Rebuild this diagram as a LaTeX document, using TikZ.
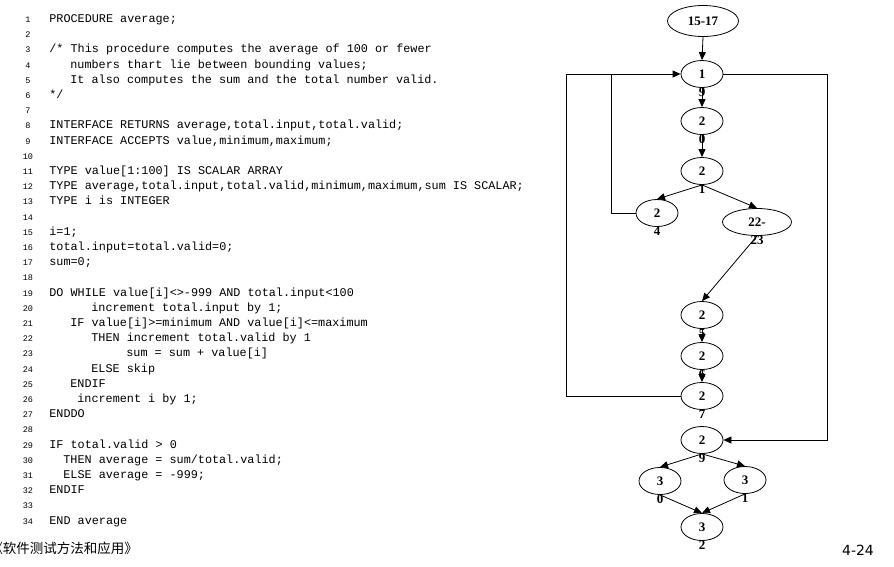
\documentclass[tikz,border=0pt]{standalone}
\usepackage{fontspec}
\setmainfont{Liberation Serif}
\setmonofont{Liberation Mono}
\newfontfamily\cjkfont{Noto Sans CJK SC}
\newfontfamily\pagefont{DejaVu Sans}
\usetikzlibrary{shapes.geometric,arrows.meta,positioning}
\begin{document}
\begin{tikzpicture}[x=1pt,y=-1pt,line width=0.8pt]
    \tikzset{
      code/.style={anchor=base west,inner sep=0,font=\ttfamily\fontsize{11.8}{14}\selectfont},
      lineno/.style={anchor=base,inner sep=0,font=\ttfamily\fontsize{8.5}{10}\selectfont},
      blk/.style={draw,ellipse,inner sep=0,minimum width=42pt,minimum height=27pt,
        font=\bfseries\fontsize{13}{15}\selectfont,label distance=0pt},
      every label/.style={inner sep=0,font=\bfseries\fontsize{13}{15}\selectfont},
      flow/.style={-{Triangle[length=8pt,width=7pt]}}
    }
        \useasboundingbox (0,0) rectangle (894,566);

        %LINE NUMBERS
        \foreach \k in {1,...,34}
          \node[lineno] (num\k) at (28,{22.5+(\k-1)*15.2}) {\k};

        %CODE
        \node[code] (c1) at (49,22.5) {PROCEDURE average;};
        \node[code] (c3) at (49,52.9) {/* This procedure computes the average of 100 or fewer};
        \node[code] (c4) at (70,68.1) {numbers thart lie between bounding values;};
        \node[code] (c5) at (70,83.3) {It also computes the sum and the total number valid.};
        \node[code] (c6) at (49,98.5) {*/};
        \node[code] (c8) at (49,128.9) {INTERFACE RETURNS average,total.input,total.valid;};
        \node[code] (c9) at (49,144.1) {INTERFACE ACCEPTS value,minimum,maximum;};
        \node[code] (c11) at (49,174.5) {TYPE value[1:100] IS SCALAR ARRAY};
        \node[code] (c12) at (49,189.7) {TYPE average,total.input,total.valid,minimum,maximum,sum IS SCALAR;};
        \node[code] (c13) at (49,204.9) {TYPE i is INTEGER};
        \node[code] (c15) at (49,235.3) {i=1;};
        \node[code] (c16) at (49,250.5) {total.input=total.valid=0;};
        \node[code] (c17) at (49,265.7) {sum=0;};
        \node[code] (c19) at (49,296.1) {DO WHILE value[i]<>-999 AND total.input<100};
        \node[code] (c20) at (91,311.3) {increment total.input by 1;};
        \node[code] (c21) at (70,326.5) {IF value[i]>=minimum AND value[i]<=maximum};
        \node[code] (c22) at (91,341.7) {THEN increment total.valid by 1};
        \node[code] (c23) at (126,356.9) {sum = sum + value[i]};
        \node[code] (c24) at (91,372.1) {ELSE skip};
        \node[code] (c25) at (70,387.3) {ENDIF};
        \node[code] (c26) at (77,402.5) {increment i by 1;};
        \node[code] (c27) at (49,417.7) {ENDDO};
        \node[code] (c29) at (49,448.1) {IF total.valid > 0};
        \node[code] (c30) at (63,463.3) {THEN average = sum/total.valid;};
        \node[code] (c31) at (63,478.5) {ELSE average = -999;};
        \node[code] (c32) at (49,493.7) {ENDIF};
        \node[code] (c34) at (49,524.1) {END average};

        %FLOW GRAPH
        \node[blk,minimum width=71pt,minimum height=31pt] (n1517) at (703,21) {15-17};
        \node[blk,label=below:9] (n19) at (702,74) {1};
        \node[blk,label=below:0] (n20) at (702,121) {2};
        \node[blk,label=below:1] (n21) at (702,171) {2};
        \node[blk,label=below:4] (n24) at (657,213) {2};
        \node[blk,minimum width=69pt,label=below:23] (n2223) at (757,222) {22-};
        \node[blk,label=below:5] (n25) at (702,315) {2};
        \node[blk,label=below:6] (n26) at (702,356) {2};
        \node[blk,label=below:7] (n27) at (702,396) {2};
        \node[blk,label=below:9] (n29) at (702,440) {2};
        \node[blk,label=below:0] (n30) at (660,481) {3};
        \node[blk,label=below:1] (n31) at (745,480) {3};
        \node[blk,label=below:2] (n32) at (702,527) {3};

        \coordinate (lft) at (566,0);
        \coordinate (mid) at (611,74);
        \coordinate (rgt) at (827,0);

        \draw[flow] (n1517.south) -- (n19.north);
        \draw[flow] (n19.south) -- (n20.north);
        \draw[flow] (n20.south) -- (n21.north);
        \draw[flow] (n21.south) -- (n24.north);
        \draw[flow] (n21.south) -- (n2223.north);
        \draw[flow] (n2223.south) -- (n25.north);
        \draw[flow] (n25.south) -- (n26.north);
        \draw[flow] (n26.south) -- (n27.north);
        \draw[flow] (n29.south) -- (n30.north);
        \draw[flow] (n29.south) -- (n31.north);
        \draw[flow] (n30.south) -- (n32.north);
        \draw[flow] (n31.south) -- (n32.north);

        %LOOPS
        \draw[flow] (n27.west) -- (n27.west -| lft) |- (n19.west);
        \draw (n24.west) -| (mid);
        \draw[flow] (n19.east) -- (n19.east -| rgt) |- (n29.east);

    \node[anchor=west,inner sep=0,font=\cjkfont\fontsize{13.5}{16}\selectfont] (book) at (-11,548) {《软件测试方法和应用》};
    \node[inner sep=0,font=\pagefont\fontsize{14}{16}\selectfont] (page) at (858,550) {4-24};
    \end{tikzpicture}
\end{document}
